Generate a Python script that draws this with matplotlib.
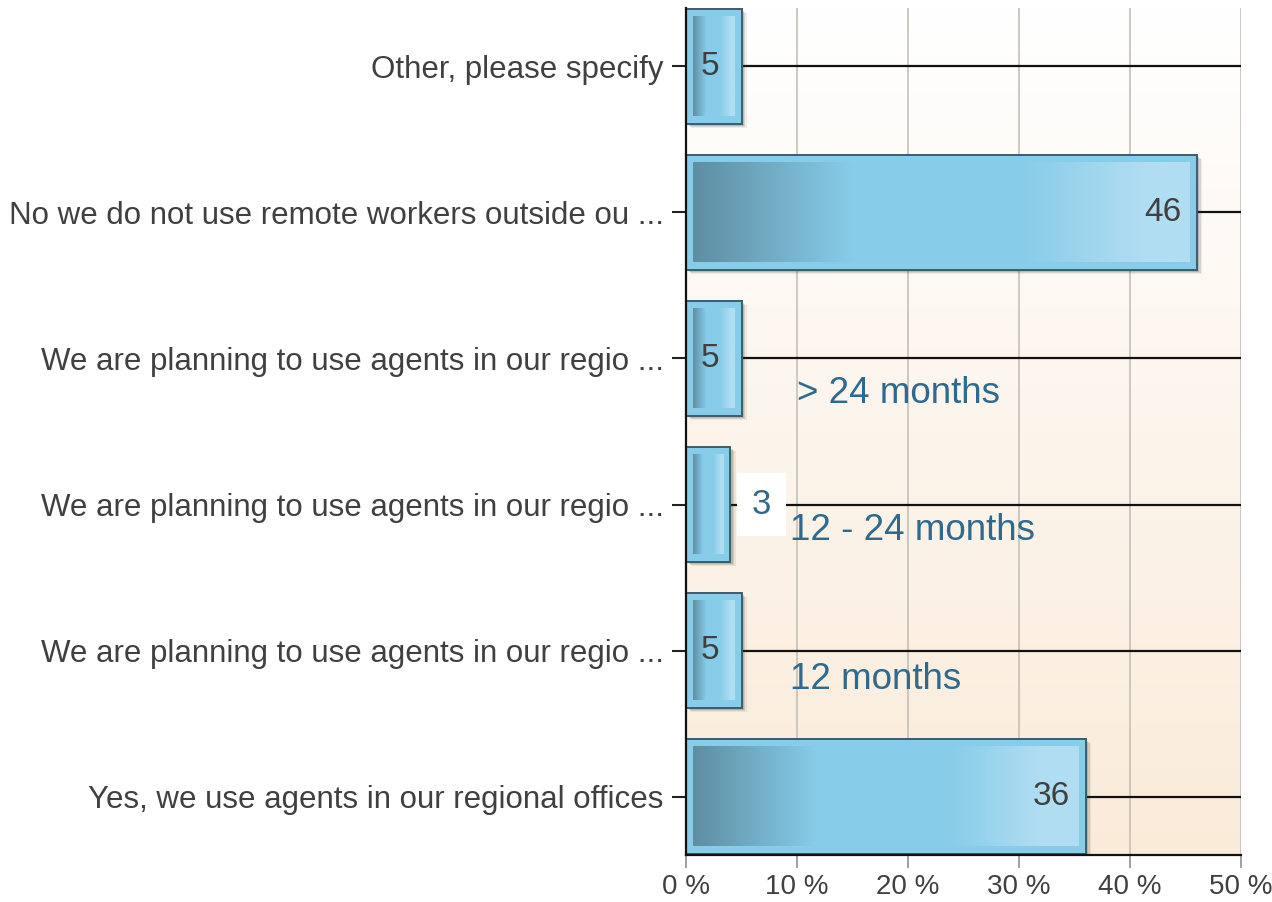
import numpy as np
import matplotlib
matplotlib.use("Agg")
from matplotlib import pyplot as plt
from matplotlib.colors import LinearSegmentedColormap
from matplotlib.patches import Rectangle

# ------------------------ Data -----------------------------
categories = [
    "Yes, we use agents in our regional offices",
    "We are planning to use agents in our regio ...",
    "We are planning to use agents in our regio ...",
    "We are planning to use agents in our regio ...",
    "No we do not use remote workers outside ou ...",
    "Other, please specify",
]
values = [36, 5, 4, 5, 46, 5]
value_labels = ["36", "5", "", "5", "46", "5"]
notes = ["", "12 months", "12 - 24 months", "> 24 months", "", ""]
boxed_labels = ["", "", "3", "", "", ""]
xticks = [0, 10, 20, 30, 40, 50]
xticklabels = ["%d %%" % t for t in xticks]

# ------------------------ Style ----------------------------
plt.rcParams['font.family'] = ['Liberation Sans', 'DejaVu Sans']
TEXT = "#404040"
NOTE = "#2E6A8E"
bar_cmap = LinearSegmentedColormap.from_list("bar", [
    (0.0, "#5E8EA2"), (0.32, "#87CCE9"), (0.66, "#87CCE9"),
    (0.9, "#B0DDF1"), (1.0, "#B0DDF1")])
bg_cmap = LinearSegmentedColormap.from_list("bg", ["#FFFFFF", "#FAEBD9"])

fig = plt.figure(figsize=(12.72, 9.02), dpi=100)
ax = fig.add_axes([686 / 1272., 47 / 902., 555 / 1272., 847 / 902.])

xmax = 50
ylo, yhi = -0.4, 5.4
bar_h = 0.79
dx, dy = 0.63, 0.055

# fond en degrade
ax.imshow(np.linspace(0, 1, 256).reshape(-1, 1), cmap=bg_cmap, aspect='auto',
          extent=[0, xmax, ylo, yhi], origin='upper', zorder=0)

for t in xticks[1:]:
    ax.axvline(t, color="#C9C4BC", lw=1.3, zorder=1)

y = np.arange(len(categories))
for i, v in enumerate(values):
    ax.plot([0, xmax], [i, i], color="#111111", lw=1.6, zorder=2)
    x0, x1 = 0, v
    b0 = i - bar_h / 2
    # ombre
    for k, a in enumerate([0.08, 0.12, 0.16]):
        off = 0.6 - 0.15 * k
        ax.add_patch(Rectangle((x0 + off * 0.8, b0 - off * 0.045), v, bar_h,
                               facecolor="#303030", edgecolor='none',
                               alpha=a, zorder=3))
    ax.add_patch(Rectangle((x0, b0), v, bar_h, facecolor="#87CCE9",
                           edgecolor="#3E5B6C", lw=1.4, zorder=4))
    ax.imshow(np.linspace(0, 1, 256).reshape(1, -1), cmap=bar_cmap, aspect='auto',
              extent=[x0 + dx, x1 - dx, b0 + dy, b0 + bar_h - dy],
              interpolation='bilinear', zorder=5)
    if value_labels[i]:
        if v < 10:
            ax.text(v / 2.0 - 0.3, i, value_labels[i], ha='center', va='center',
                    fontsize=24, color=TEXT, zorder=6)
        else:
            ax.text(v - 1.4, i, value_labels[i], ha='right', va='center',
                    fontsize=24, color=TEXT, zorder=6)
    if boxed_labels[i]:
        ax.text(v + 2.8, i, boxed_labels[i], ha='center', va='center',
                fontsize=25, color=NOTE, zorder=7,
                bbox=dict(boxstyle='square,pad=0.42', facecolor='white',
                          edgecolor='none'))
    if notes[i]:
        nx = 10.0 if i == 3 else 9.4
        ny = {1: -0.2, 2: -0.18, 3: -0.24}[i]
        ax.text(nx, i + ny, notes[i], ha='left', va='center',
                fontsize=26.5, color=NOTE, zorder=7)

ax.set_xlim(0, xmax)
ax.set_ylim(ylo, yhi)
ax.set_yticks(y)
ax.set_yticklabels(categories, fontsize=22.5, color=TEXT)
ax.set_xticks(xticks)
ax.set_xticklabels(xticklabels, fontsize=20, color=TEXT)
ax.tick_params(axis='y', length=10, width=1.5, color="#222222", pad=6)
ax.tick_params(axis='x', length=9, width=1.3, color="#999999", pad=5)
for s in ['top', 'right']:
    ax.spines[s].set_visible(False)
for s in ['left', 'bottom']:
    ax.spines[s].set_color("#111111")
    ax.spines[s].set_linewidth(1.6)
    ax.spines[s].set_zorder(8)

fig.savefig("out.png", dpi=100)
